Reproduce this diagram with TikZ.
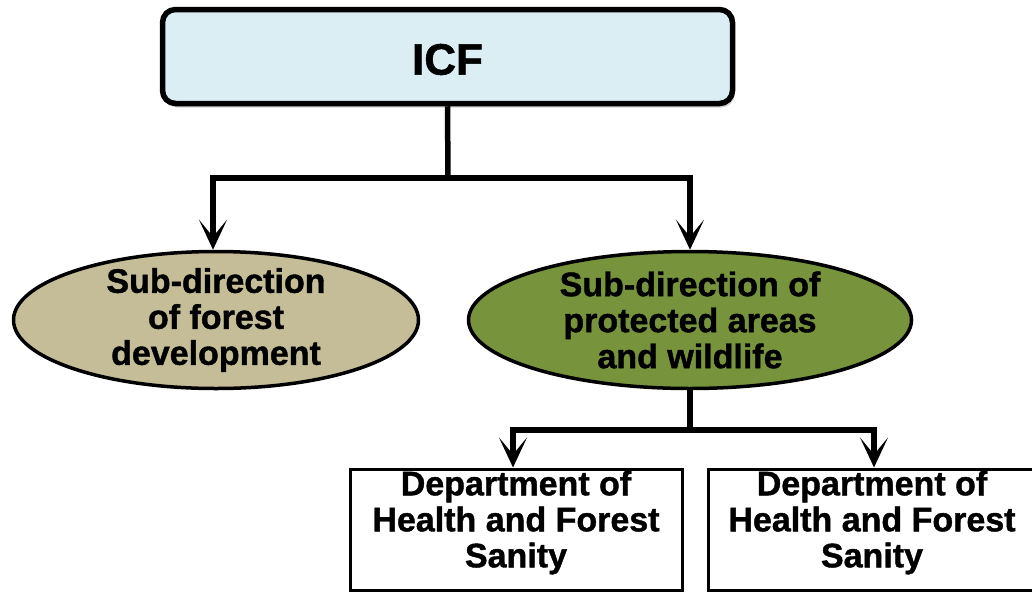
\documentclass[tikz,border=0pt]{standalone}
\usepackage{fontspec}
\setmainfont[BoldFeatures={FakeBold=1.2}]{Liberation Sans}
\usetikzlibrary{shapes.geometric,arrows.meta,shadows}
\definecolor{icfblue}{HTML}{DAEEF3}
\definecolor{tanfill}{HTML}{C4BD97}
\definecolor{olivefill}{HTML}{77933C}
\tikzset{
  icfbox/.style={draw=black, line width=5.5pt, rounded corners=13pt, fill=icfblue,
    minimum width=570pt, minimum height=94pt, inner sep=0pt,
    font=\bfseries\fontsize{44}{48}\selectfont,
    drop shadow={shadow xshift=2pt, shadow yshift=-4pt, opacity=0.35}},
  subdir/.style={ellipse, draw=black, line width=3.5pt, inner sep=0pt, minimum height=137pt},
  dept/.style={rectangle, draw=black, line width=3pt, fill=white, inner sep=0pt,
    minimum width=332pt, minimum height=121pt},
  txt/.style={align=center, font=\bfseries\fontsize{34}{36}\selectfont},
  conn/.style={line width=5.5pt, line join=miter, -{Stealth[length=30pt,width=28pt,inset=17pt]}},
}
\begin{document}
\begin{tikzpicture}[x=1pt,y=-1pt]
\useasboundingbox (0,0) rectangle (1032,592);
\clip (0,0) rectangle (1032,592);
\fill[white] (0,0) rectangle (1032,592);

\node[icfbox, label={[font=\bfseries\fontsize{44}{48}\selectfont, yshift=-3pt]center:ICF}] (icf) at (447.5,56.5) {};

\node[subdir, fill=tanfill, minimum width=405pt,
  label={[txt]center:Sub-direction\\of forest\\development}] (sd1) at (216,320) {};
\node[subdir, fill=olivefill, minimum width=443pt,
  label={[txt]center:Sub-direction of\\protected areas\\and wildlife}] (sd2) at (690,320) {};

\node[dept, label={[txt, yshift=7pt]center:Department of\\Health and Forest\\Sanity}] (d1) at (516,529.5) {};
\node[dept, minimum width=336pt, label={[txt, yshift=7pt, xshift=-4pt]center:Department of\\Health and Forest\\Sanity}] (d2) at (876,529.5) {};

\coordinate (j1) at (448,178);
\coordinate (j2) at (690,430);

\draw[line width=5.5pt] (icf.south) -- (j1);
\draw[conn] (j1) -| ([xshift=-3pt]sd1.north);
\draw[conn] (j1) -| (sd2.north);
\draw[line width=5.5pt] (sd2.south) -- (j2);
\draw[conn] (j2) -| ([xshift=-3pt]d1.north);
\draw[conn] (j2) -| ([xshift=-2pt]d2.north);
\end{tikzpicture}
\end{document}
